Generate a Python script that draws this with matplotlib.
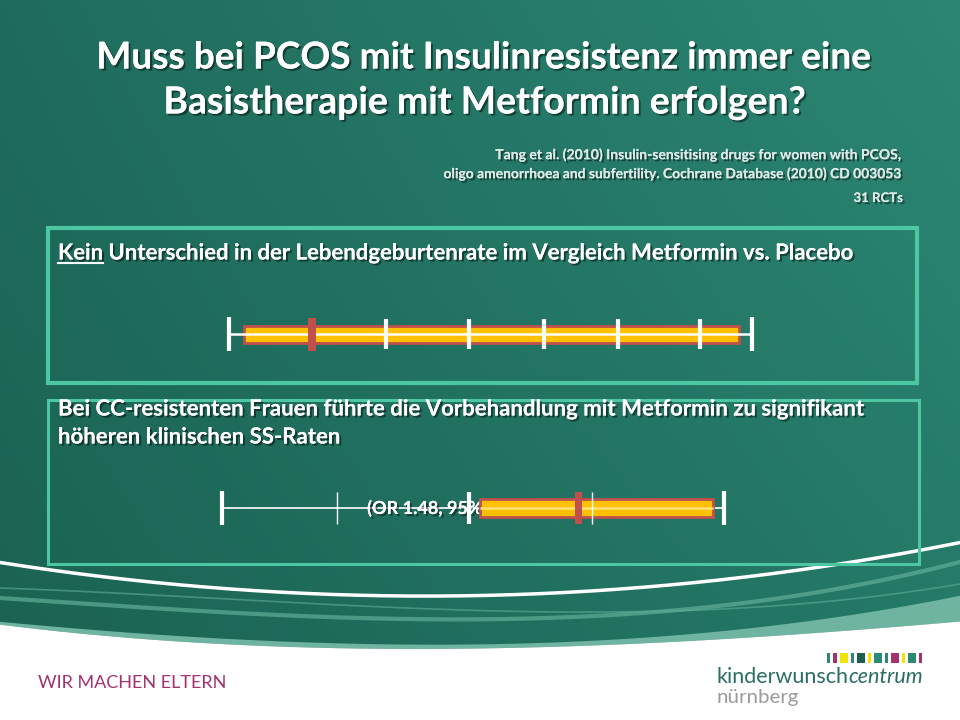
import numpy as np
import matplotlib.pyplot as plt
import matplotlib.patheffects as pe
from matplotlib.patches import Rectangle

# slide texts
title = ["Muss bei PCOS mit Insulinresistenz immer eine",
         "Basistherapie mit Metformin erfolgen?"]
citation = ["Tang et al. (2010) Insulin-sensitising drugs for women with PCOS,",
            "oligo amenorrhoea and subfertility. Cochrane Database (2010) CD 003053"]
n_trials = "31 RCTs"
box1_lead = "Kein"
box1_text = "Unterschied in der Lebendgeburtenrate im Vergleich Metformin vs. Placebo"
box2_text = ["Bei CC-resistenten Frauen führte die Vorbehandlung mit Metformin zu signifikant",
             "höheren klinischen SS-Raten"]
or_label = "(OR 1.48, 95% CI 1.12 to 1.95)"

# forest bars, values on a 0-100 scale along each line
p1_ticks = [30.0, 45.9, 60.2, 74.4, 90.1]
p1_caps = [0, 100]
p1_ci = (2.9, 97.5)
p1_est = 15.9

p2_caps = [0, 100]
p2_thick = [49.2]
p2_thin = [22.9, 73.7]
p2_ci = (51.4, 97.8)
p2_est = 71.1

WHITE = "white"
BAR = "#ffc000"
EDGE = "#c0504d"
MINT = "#4cc7a2"
shadow = [pe.withSimplePatchShadow(offset=(1.5, -1.5), shadow_rgbFace="black", alpha=0.45), pe.Normal()]

plt.rcParams["font.family"] = ["Lato", "DejaVu Sans"]

fig = plt.figure(figsize=(9.6, 7.2), dpi=100)
bg = fig.add_axes([0, 0, 1, 1])
renderer = fig.canvas.get_renderer()


def width_of(t):
    return t.get_window_extent(renderer).width


def fit(t, w):
    t.set_fontsize(t.get_fontsize() * w / width_of(t))
    t.set_fontsize(t.get_fontsize() * w / width_of(t))
    return t


# background gradient
c_tl = np.array([31, 108, 93]) / 255
c_tr = np.array([44, 134, 115]) / 255
c_bl = np.array([27, 98, 82]) / 255
c_br = np.array([36, 120, 102]) / 255
u = np.linspace(0, 1, 200)[None, :, None]
v = np.linspace(0, 1, 150)[:, None, None]
grad = (1 - u) * (1 - v) * c_tl + u * (1 - v) * c_tr + (1 - u) * v * c_bl + u * v * c_br
bg.imshow(grad, extent=[0, 960, 720, 0], aspect="auto", zorder=0)


def smooth(pts):
    px, py = zip(*pts)
    k = np.polyfit(px, py, 3)
    xx = np.linspace(0, 960, 300)
    return xx, np.polyval(k, xx)


xx, white_edge = smooth([(0, 625), (300, 645), (500, 652), (700, 638), (960, 622)])
_, dark_edge = smooth([(0, 622), (300, 641), (500, 646), (700, 632), (960, 596)])
bg.fill_between(xx, dark_edge, white_edge, color="#6fb4a1", lw=0, zorder=1)
bg.fill_between(xx, white_edge, 720, color="white", lw=0, zorder=1)
_, c1 = smooth([(0, 598), (300, 616), (500, 619), (700, 608), (960, 562)])
bg.plot(xx, c1, color="#5fae97", lw=3, alpha=0.7, zorder=1)
_, c2 = smooth([(0, 588), (300, 603), (600, 612), (800, 604), (960, 584)])
bg.plot(xx, c2, color="#5fae97", lw=1.2, alpha=0.6, zorder=1)
_, wl = smooth([(0, 563), (200, 585), (450, 598), (700, 581), (850, 562), (960, 543)])
bg.plot(xx, wl, color="white", lw=2.5, zorder=2)

# boxes
bg.add_patch(Rectangle((48, 228), 869, 155, fill=False, ec=MINT, lw=3, zorder=3))
bg.add_patch(Rectangle((48, 400), 871, 164, fill=False, ec=MINT, lw=2.2, zorder=3))

# title
for txt, y, w in zip(title, [58, 103], [774, 642]):
    t = bg.text(484, y, txt, ha="center", va="center", color=WHITE, fontsize=24,
                fontweight="bold", path_effects=shadow, zorder=5)
    fit(t, w)

# citation
for txt, y, w in zip(citation, [155, 174], [405, 459]):
    t = bg.text(903, y, txt, ha="right", va="center", color="#dde9e6", fontsize=10,
                fontweight="bold", path_effects=shadow, zorder=5)
    fit(t, w)
bg.text(903, 198, n_trials, ha="right", va="center", color="#dde9e6", fontsize=9.5,
        fontweight="bold", path_effects=shadow, zorder=5)

# box 1 text with underlined lead word
t_full = bg.text(58, 253, box1_lead + " " + box1_text, ha="left", va="center", color=WHITE,
                 fontsize=15, fontweight="bold")
fit(t_full, 797)
fs = t_full.get_fontsize()
t_full.remove()
lead = bg.text(58, 253, box1_lead, ha="left", va="center", color=WHITE, fontsize=fs,
               fontweight="bold", path_effects=shadow, zorder=5)
lw_lead = width_of(lead)
space = bg.text(0, 0, box1_lead + " ", fontsize=fs, fontweight="bold")
gap = width_of(space)
space.remove()
bg.plot([58, 58 + lw_lead], [263, 263], color=WHITE, lw=1.5, zorder=5)
bg.text(58 + gap, 253, box1_text, ha="left", va="center", color=WHITE, fontsize=fs,
        fontweight="bold", path_effects=shadow, zorder=5)

# box 2 text
t = bg.text(58, 409, box2_text[0], ha="left", va="center", color=WHITE, fontsize=15,
            fontweight="bold", path_effects=shadow, zorder=5)
fit(t, 806)
bg.text(58, 437, box2_text[1], ha="left", va="center", color=WHITE, fontsize=t.get_fontsize(),
        fontweight="bold", path_effects=shadow, zorder=5)

# footer
t = bg.text(38, 683, "WIR MACHEN ELTERN", ha="left", va="center", color="#a3326f", fontsize=13)
fit(t, 188)
k1 = bg.text(716, 677, "kinderwunsch", ha="left", va="center", color="#2a6e62", fontsize=17)
k2 = bg.text(0, 677, "centrum", ha="left", va="center", color="#2a6e62", fontsize=17, style="italic")
scale = 207 / (width_of(k1) + width_of(k2))
k1.set_fontsize(17 * scale)
k2.set_fontsize(17 * scale)
k2.set_x(716 + width_of(k1))
t = bg.text(716, 697, "nürnberg", ha="left", va="center", color="#9a9a9a", fontsize=13)
fit(t, 82)

logo_cols = {"t": "#2b8a76", "m": "#a3326f", "y": "#f0e400", "d": "#1d5e50"}
logo = [("t", 3), ("m", 4), ("y", 8), ("t", 3), ("d", 8), ("y", 3),
        ("t", 8), ("t", 3), ("m", 8), ("y", 3), ("t", 8), ("m", 3)]
x0 = 827
for c, w in logo:
    bg.add_patch(Rectangle((x0, 653), w, 10, color=logo_cols[c], lw=0, zorder=3))
    x0 += w + 3

bg.set_xlim(0, 960)
bg.set_ylim(720, 0)
bg.axis("off")


def forest_axes(px0, px1, yc):
    s = (px1 - px0) / 100
    ax = fig.add_axes([(px0 - 3 * s) / 960, 1 - (yc + 22) / 720, 106 * s / 960, 44 / 720])
    ax.set_xlim(-3, 103)
    ax.set_ylim(-22, 22)
    ax.axis("off")
    ax.patch.set_alpha(0)
    return ax


# panel 1
ax1 = forest_axes(229, 752, 334)
ax1.barh(0, p1_ci[1] - p1_ci[0], left=p1_ci[0], height=17, color=BAR, edgecolor=EDGE, lw=2, zorder=2)
ax1.hlines(0, p1_caps[0], p1_caps[1], color=WHITE, lw=1.8, zorder=3)
ax1.vlines(p1_ticks, -15, 15, color=WHITE, lw=3, zorder=4)
ax1.vlines(p1_caps, -17, 17, color=WHITE, lw=3, zorder=4)
ax1.barh(0, 1.4, left=p1_est - 0.7, height=33, color=EDGE, zorder=5)

# panel 2
ax2 = forest_axes(222, 724, 508)
ax2.hlines(0, p2_caps[0], p2_caps[1], color=WHITE, lw=1.2, zorder=1)
ax2.text(28.9, 0, or_label, ha="left", va="center", color=WHITE, fontsize=13,
         fontweight="bold", path_effects=shadow, zorder=1)
ax2.barh(0, p2_ci[1] - p2_ci[0], left=p2_ci[0], height=18, color=BAR, edgecolor=EDGE, lw=2, zorder=2)
ax2.hlines(0, p2_ci[0], p2_ci[1], color="#ffe27a", lw=1.8, zorder=3)
ax2.vlines(p2_thin, -16, 16, color=WHITE, lw=1, zorder=4)
ax2.vlines(p2_thick, -16, 16, color=WHITE, lw=3, zorder=4)
ax2.vlines(p2_caps, -17, 17, color=WHITE, lw=3, zorder=4)
ax2.barh(0, 1.4, left=p2_est - 0.7, height=32, color=EDGE, zorder=5)

plt.savefig("out.png", dpi=100)
